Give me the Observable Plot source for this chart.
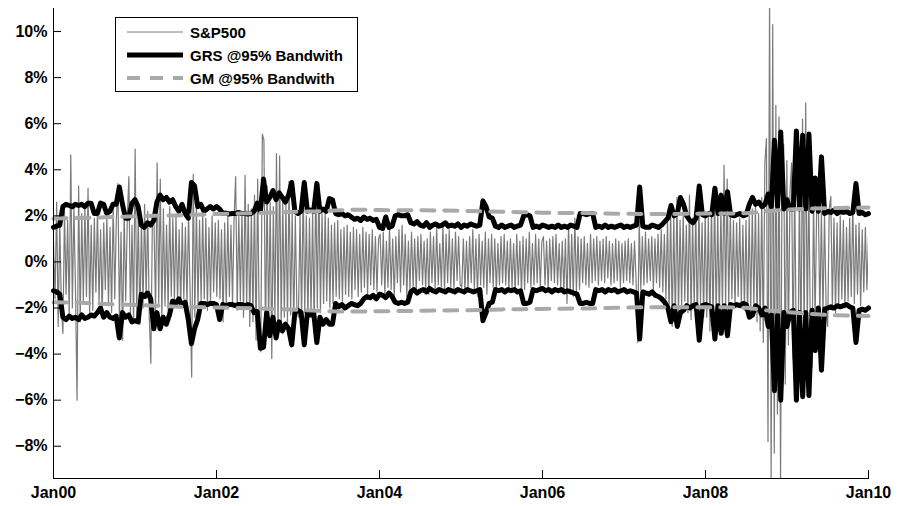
<!DOCTYPE html>
<html>
<head>
<meta charset="utf-8">
<script src="https://cdn.jsdelivr.net/npm/d3@7"></script>
<script src="https://cdn.jsdelivr.net/npm/@observablehq/plot@0.6"></script>
<style>
  body { margin: 0; background: #fff; }
  #wrap { position: relative; width: 898px; height: 506px; font-family: Arial, "Liberation Sans", sans-serif; }
  #legend { position: absolute; left: 115px; top: 17px; width: 243px; height: 75px; box-sizing: border-box;
            border: 1px solid #000; background: #fff; }
  .row { position: absolute; left: 11px; height: 20px; display: flex; align-items: center;
         font-weight: bold; font-size: 15px; color: #000; white-space: nowrap; }
  .row svg { margin-right: 7px; }
</style>
</head>
<body>
<div id="wrap">
  <div id="chart"></div>
  <div id="legend"></div>
</div>
<script>
const sp2000 = [0.9, -1.6, 2.6, -2.8, 1.7, -1.9, -3.1, 2.2, -1.4, 1.8, -2.3, 4.65, -2.0, 2.4, -1.2, -6.0, 3.3, -2.6, 2.1, -1.7, 2.4, -1.5, 3.2, -2.2, 1.6, -2.1, 1.9, -1.3, 2.3, -1.8, 1.4, -2.4, 1.7, -1.2, 2.0, -1.9, 1.5, -2.2, 2.6, -1.6, 1.8, 3.4, -2.5, 1.3, -3.4, 2.2, -1.7, 1.9, 3.7, -2.3, 1.6, -2.6];
const sp2001 = [4.9, -2.3, 2.1, -2.7, 1.8, -2.0, 2.5, -1.6, 2.2, -2.4, -4.4, 2.0, 1.7, -2.2, 4.3, -1.8, 3.6, -2.5, 2.3, -1.9, 1.6, -2.1, 2.4, -1.5, 1.9, -1.7, 2.0, -1.8, 1.4, -2.0, 1.7, -1.6, 1.5, -1.9, 2.1, -1.4, -5.0, 3.8, -2.4, 2.5, -2.0, 1.8, -1.7, 2.2, -1.6, 1.9, -2.1, 1.5, -1.8, 2.0, -1.3, 1.7];
const sp2002 = [-1.5, 1.8, -1.6, 1.4, -2.6, 1.7, -1.9, 2.0, -1.5, 1.6, -1.8, 1.9, 3.7, -2.1, 2.0, -1.7, 2.2, -2.4, 3.76, -2.0, 2.5, -2.8, 2.3, -2.6, 2.9, -3.4, 3.6, -2.7, -3.9, 5.55, 5.3, -3.5, 3.3, -2.9, 2.6, -4.2, 2.4, -2.5, 4.7, -3.0, 4.6, -2.8, 2.7, -2.4, 2.5, -2.6, 3.5, -2.3, 2.2, -2.8, 2.0, -2.1];
const sp2003 = [-2.4, 2.1, -2.6, 3.4, -2.2, 2.0, -2.5, 1.9, -2.3, 2.2, -2.9, 3.5, -2.0, 3.4, -2.2, 2.1, -1.8, 2.3, -1.7, 1.9, -2.0, 1.6, -1.8, 1.7, -1.5, 1.8, -1.6, 1.4, -1.7, 1.5, -1.4, 1.6, -1.5, 1.3, -1.6, 1.5, -1.2, 1.4, -1.5, 1.2, -1.3, 1.5, -1.1, 1.3, -1.4, 1.2, -1.0, 1.4, -1.2, 1.1, -1.3, 1.0];
const sp2004 = [1.2, -1.0, 1.3, -1.4, 0.9, -1.1, 1.5, -1.2, 1.0, -1.6, 1.1, -0.9, 1.4, -1.3, 1.6, -1.0, 1.2, -1.5, 0.9, -1.2, 1.3, -1.1, 1.0, -1.3, 1.1, -0.8, 1.2, -1.0, 0.9, -1.2, 1.0, -1.4, 1.3, -0.9, 1.1, -1.2, 1.5, -1.0, 0.8, -1.1, 1.6, -1.3, 1.2, -0.9, 1.4, -1.1, 1.0, -1.2, 1.3, -0.8, 1.1, -1.0];
const sp2005 = [-1.1, 1.0, -1.3, 0.9, -1.2, 1.1, -0.9, 1.4, -1.2, 1.0, -1.5, 1.2, -1.0, 0.9, -1.1, 1.3, -1.4, 1.0, -0.9, 1.2, -1.1, 1.0, -1.3, 0.8, -1.0, 1.1, -0.9, 1.2, -1.0, 0.9, -1.2, 1.0, -1.1, 0.8, -1.3, 1.2, -1.0, 0.9, -1.4, 1.1, -1.2, 1.0, -0.9, 1.3, -1.1, 0.8, -1.0, 1.2, -0.9, 1.0, -1.1, 0.9];
const sp2006 = [1.1, -1.0, 0.9, -1.2, 1.0, -0.8, 1.1, -0.9, 1.2, -1.0, 0.8, -1.1, 0.9, -1.3, 1.0, -1.8, 1.6, -1.4, 1.2, -1.5, 1.9, -1.3, 1.1, -1.2, 1.0, -0.9, 1.1, -1.0, 0.8, -1.1, 1.2, -0.9, 1.0, -0.8, 1.1, -1.0, 0.9, -0.8, 1.0, -0.9, 1.1, -0.7, 0.9, -1.0, 0.8, -0.9, 1.0, -0.8, 0.9, -1.1, 0.8, -0.9];
const sp2007 = [0.9, -0.8, 1.0, -0.9, 0.8, -1.0, 0.9, -0.8, -3.5, 1.8, -1.2, 1.1, -1.0, 1.3, -0.9, 1.0, -0.8, 1.1, -1.2, 1.0, -0.9, 1.2, -1.1, 1.4, -1.3, 1.2, -1.6, 1.9, -2.2, 2.3, -2.8, 2.0, -2.6, 2.8, -2.3, 1.8, -1.9, 2.1, -1.7, 1.6, -2.2, 2.9, -2.5, 1.9, -2.0, 2.4, -3.0, 2.6, -1.8, 1.7, -2.4, 2.2];
const sp2008 = [-2.4, 2.0, -3.0, 2.6, -2.8, 3.0, -2.5, 2.2, -2.6, 2.4, -2.2, 4.2, -2.0, 3.6, -1.9, 2.2, -1.6, 1.8, -2.0, 1.7, -1.5, 1.9, -1.8, 1.6, -2.1, 1.8, -2.4, 2.0, -2.2, 2.3, -1.9, 2.5, -2.6, 2.1, -3.0, 2.8, -3.5, 4.3, 5.35, -7.8, 11.6, -9.5, 10.3, -8.3, 6.8, -6.6, 6.3, -9.4, 4.8, 5.1, -5.3, 4.4];
const sp2009 = [-3.6, 3.0, 4.3, -4.2, 3.5, -3.8, -5.6, 3.2, -4.0, 6.2, -3.4, 6.9, -3.0, 3.4, -3.2, -4.6, 2.8, -2.6, 2.4, 2.9, -2.5, 2.2, -2.3, 2.1, -2.0, -2.8, 2.3, 2.85, -2.1, 1.9, -2.2, 1.7, -1.9, 2.0, -1.6, 1.8, -2.0, 1.5, -1.7, 1.9, -1.5, 2.6, -1.8, 1.6, -1.4, 1.7, -1.9, 1.4, -1.3, 1.5, -1.2, 1.1];

// ---- GRS @95% band (bi-weekly samples, %) ----
const grsUpper = [1.5, 1.55, 1.6,
  2.4, 2.5, 2.45, 2.4, 2.5, 2.45, 2.5, 2.4, 2.55,
  2.55, 2.1, 2.1, 2.55, 2.5, 2.1, 2.2, 2.5, 2.5, 3.25, 2.5, 1.9, 1.9,
  2.55, 2.7, 2.4, 1.6, 1.5, 1.7, 1.6, 1.8,
  2.6, 2.9, 2.7, 2.8, 2.6, 2.7, 2.4, 2.2, 2.5, 2.1, 1.9, 3.45, 3.3,
  2.4, 2.5, 2.2, 2.3, 2.4, 2.3, 2.4, 2.3,
  2.1, 2.12, 2.08, 2.1, 2.1, 2.15, 2.1, 2.1, 2.08, 2.1,
  2.2, 2.55, 2.2, 3.6, 2.6, 2.8, 3.1, 2.7, 3.0, 2.8, 2.6, 2.9, 3.45,
  2.2, 2.1, 2.2, 3.45, 2.2, 2.25, 2.2, 3.4, 2.2, 2.3, 2.2, 2.75, 2.7,
  2.1, 2.05, 2.1, 2.0, 2.05, 1.95, 1.85, 1.9, 1.8, 1.95, 1.85, 1.9, 1.8, 1.85,
  1.5, 1.45, 1.95, 1.5, 1.55, 2.0, 2.05, 2.0, 2.0, 2.05,
  1.7, 1.65, 1.75, 1.6, 1.55, 1.7, 1.5, 1.6, 1.65, 1.55, 1.6, 1.7, 1.55,
  1.6, 1.55, 1.65, 1.5, 1.6, 1.55, 1.65, 1.6, 1.55, 1.6,
  2.65, 2.4, 1.95, 1.9, 1.55, 1.5, 1.6, 1.5, 1.55, 1.6, 1.5, 1.55, 1.6,
  2.0, 2.05, 2.0,
  1.5, 1.55, 1.5, 1.6, 1.55, 1.5, 1.55, 1.5, 1.6, 1.5, 1.55, 1.5, 1.6, 1.55, 1.5,
  2.1, 2.1, 2.05, 2.1, 2.1,
  1.5, 1.55, 1.5, 1.6, 1.5, 1.55, 1.5, 1.55, 1.6, 1.5, 1.55, 1.5, 1.55, 1.6,
  3.25, 1.55, 1.5, 1.5, 1.6, 1.55, 1.5, 1.6, 1.75,
  1.9, 2.45, 2.0, 2.1, 2.8, 2.5, 2.0, 1.8, 1.7, 1.9, 3.3,
  2.05, 2.0, 2.1, 2.05, 3.2, 2.1, 2.9, 2.1, 3.05,
  2.05, 2.0, 2.05, 2.1, 2.0, 2.05,
  2.5, 2.8, 2.5, 2.6, 2.4, 2.5, 2.95, 2.4,
  5.28, 2.4, 5.64, 2.3, 2.7, 2.3, 2.3, 5.68, 2.3, 5.5, 2.3, 5.55, 2.2, 3.64, 2.2, 4.56,
  2.1, 2.2, 2.15, 2.25, 2.1, 2.2, 2.15, 2.2, 2.1, 2.15,
  3.4, 2.1, 2.15, 2.05, 2.1];
const grsLower = [-1.25, -1.3, -1.4,
  -2.4, -2.5, -2.35, -2.45, -2.4, -2.5, -2.3, -2.45, -2.4,
  -2.3, -2.35, -2.2, -2.0, -2.4, -2.2, -2.4, -2.45, -2.35, -3.3, -2.2, -2.4, -2.3,
  -2.6, -2.55, -2.6, -1.4, -1.5, -1.35, -1.6, -2.9,
  -2.2, -2.9, -2.4, -2.7, -2.3, -1.7, -1.8, -1.6, -1.9, -1.75, -2.5, -3.55, -2.9,
  -2.5, -1.8, -1.8, -1.85, -1.8, -1.8, -1.85, -2.5,
  -1.85, -1.9, -1.85, -1.85, -1.9, -1.85, -1.85, -1.9, -1.85, -1.9,
  -2.2, -2.15, -3.75, -3.7, -2.2, -3.2, -2.4, -3.3, -2.6, -3.0, -2.7, -2.9, -3.6,
  -2.2, -2.1, -2.2, -3.6, -2.2, -2.3, -2.2, -3.5, -2.4, -2.7, -2.5, -2.7, -2.7,
  -1.8, -1.95, -1.85, -2.0, -1.9, -1.8, -1.85, -1.9, -1.8, -1.6, -1.5, -1.55, -1.45,
  -1.6, -1.4, -1.45, -1.55, -1.35, -1.5, -1.75, -1.8, -1.75, -1.8, -1.75,
  -1.3, -1.2, -1.35, -1.25, -1.2, -1.3, -1.15, -1.25, -1.3, -1.2, -1.25, -1.3, -1.2,
  -1.25, -1.3, -1.2, -1.25, -1.3, -1.2, -1.25, -1.3, -1.25, -1.2,
  -2.55, -2.2, -1.8, -1.75, -1.2, -1.25, -1.2, -1.3, -1.2, -1.25, -1.2, -1.3, -1.25,
  -1.8, -1.8, -1.75,
  -1.2, -1.25, -1.2, -1.15, -1.25, -1.2, -1.3, -1.2, -1.25, -1.2, -1.3, -1.25, -1.3, -1.35, -1.4,
  -1.8, -1.8, -1.75, -1.8, -1.8,
  -1.2, -1.25, -1.2, -1.3, -1.2, -1.25, -1.2, -1.3, -1.25, -1.2, -1.3, -1.25, -1.3, -1.35,
  -3.35, -1.3, -1.35, -1.4, -1.3, -1.45, -1.5, -1.6, -1.75,
  -2.0, -2.6, -1.9, -2.8, -2.2, -2.1, -1.9, -2.0, -1.9, -1.85, -3.4,
  -1.9, -1.85, -1.9, -1.95, -3.35, -1.9, -3.1, -1.9, -3.2,
  -1.85, -1.9, -1.85, -1.9, -1.8, -1.85,
  -2.4, -2.3, -1.9, -2.0, -2.3, -2.0, -2.8, -2.3,
  -5.59, -2.3, -6.0, -2.2, -2.8, -2.2, -2.1, -6.0, -2.2, -5.85, -2.2, -5.8, -2.1, -3.85, -2.0, -4.7,
  -2.05, -2.0, -1.95, -2.0, -1.9, -1.95, -1.9, -1.85, -1.95, -2.0,
  -3.5, -2.1, -2.05, -2.1, -2.0];

// ---- GM @95% band (quarterly samples, %) ----
const gmUpper = [1.88, 1.9, 1.92, 1.95, 1.98, 2.0, 2.02, 2.05, 2.08, 2.1, 2.12, 2.15, 2.18, 2.2, 2.24, 2.27, 2.25, 2.24, 2.24, 2.23, 2.22, 2.2, 2.18, 2.16, 2.14, 2.12, 2.12, 2.1, 2.09, 2.08, 2.08, 2.09, 2.1, 2.1, 2.11, 2.2, 2.27, 2.31, 2.33, 2.35, 2.36];
const gmLower = [-1.75, -1.76, -1.8, -1.84, -1.87, -1.9, -1.94, -1.96, -1.98, -2.0, -2.02, -2.05, -2.08, -2.12, -2.15, -2.15, -2.14, -2.13, -2.12, -2.11, -2.1, -2.08, -2.06, -2.05, -2.04, -2.03, -2.02, -2.0, -1.98, -1.97, -1.97, -1.97, -1.97, -1.97, -1.99, -2.1, -2.18, -2.25, -2.3, -2.33, -2.35];

// ---- axes ----
const startYear = 2000, endYear = 2010;
const xTickYears = [2000, 2002, 2004, 2006, 2008, 2010];
const xTickLabels = ["Jan00", "Jan02", "Jan04", "Jan06", "Jan08", "Jan10"];
const yTicks = [-8, -6, -4, -2, 0, 2, 4, 6, 8, 10];
const yDomain = [-9.4, 11];

const legendItems = [
  {label: "S&P500", color: "#7a7a7a", width: 1, dash: null},
  {label: "GRS @95% Bandwith", color: "#000000", width: 5, dash: null},
  {label: "GM @95% Bandwith", color: "#a9a9a9", width: 4, dash: "13,10"}
];

// build tables: spread each series evenly over Jan00..Jan10
const toRows = (vals) => vals.map((v, i) => ({t: startYear + (endYear - startYear) * i / (vals.length - 1), v}));
const spAll = [].concat(sp2000, sp2001, sp2002, sp2003, sp2004, sp2005, sp2006, sp2007, sp2008, sp2009);
const spRows = toRows(spAll);

const chart = Plot.plot({
  width: 898,
  height: 506,
  marginLeft: 53,
  marginRight: 30,
  marginTop: 8,
  marginBottom: 28,
  x: {domain: [startYear, endYear]},
  y: {domain: yDomain},
  style: {fontFamily: "Arial, 'Liberation Sans', sans-serif", fontWeight: "bold", fontSize: "16px", color: "#000", background: "#fff", overflow: "visible"},
  marks: [
    Plot.line(spRows, {x: "t", y: "v", stroke: "#7a7a7a", strokeWidth: 1.2, clip: true}),
    Plot.line(toRows(grsUpper), {x: "t", y: "v", stroke: "#000", strokeWidth: 5, strokeLinejoin: "round", strokeLinecap: "round"}),
    Plot.line(toRows(grsLower), {x: "t", y: "v", stroke: "#000", strokeWidth: 5, strokeLinejoin: "round", strokeLinecap: "round"}),
    Plot.line(toRows(gmUpper), {x: "t", y: "v", stroke: "#a9a9a9", strokeWidth: 4, strokeDasharray: "13,10"}),
    Plot.line(toRows(gmLower), {x: "t", y: "v", stroke: "#a9a9a9", strokeWidth: 4, strokeDasharray: "13,10"}),
    Plot.frame({anchor: "left", stroke: "#000"}),
    Plot.frame({anchor: "bottom", stroke: "#000"}),
    Plot.axisY({ticks: yTicks, tickSize: -8, tickPadding: 14, label: null,
      tickFormat: d => (d < 0 ? "\u2212" : "") + Math.abs(d) + "%"}),
    Plot.axisX({ticks: xTickYears, tickSize: -8, tickPadding: 16, label: null,
      tickFormat: d => xTickLabels[xTickYears.indexOf(d)]})
  ]
});
document.getElementById("chart").appendChild(chart);

// legend (HTML overlay)
const legend = document.getElementById("legend");
legendItems.forEach((it, k) => {
  const row = document.createElement("div");
  row.className = "row";
  row.style.top = (4 + k * 23) + "px";
  const ns = "http://www.w3.org/2000/svg";
  const s = document.createElementNS(ns, "svg");
  s.setAttribute("width", 56); s.setAttribute("height", 10);
  const ln = document.createElementNS(ns, "line");
  ln.setAttribute("x1", 0); ln.setAttribute("x2", 56);
  ln.setAttribute("y1", 5); ln.setAttribute("y2", 5);
  ln.setAttribute("stroke", it.color);
  ln.setAttribute("stroke-width", it.width);
  if (it.dash) ln.setAttribute("stroke-dasharray", it.dash);
  s.appendChild(ln);
  row.appendChild(s);
  const span = document.createElement("span");
  span.textContent = it.label;
  row.appendChild(span);
  legend.appendChild(row);
});
</script>
</body>
</html>
